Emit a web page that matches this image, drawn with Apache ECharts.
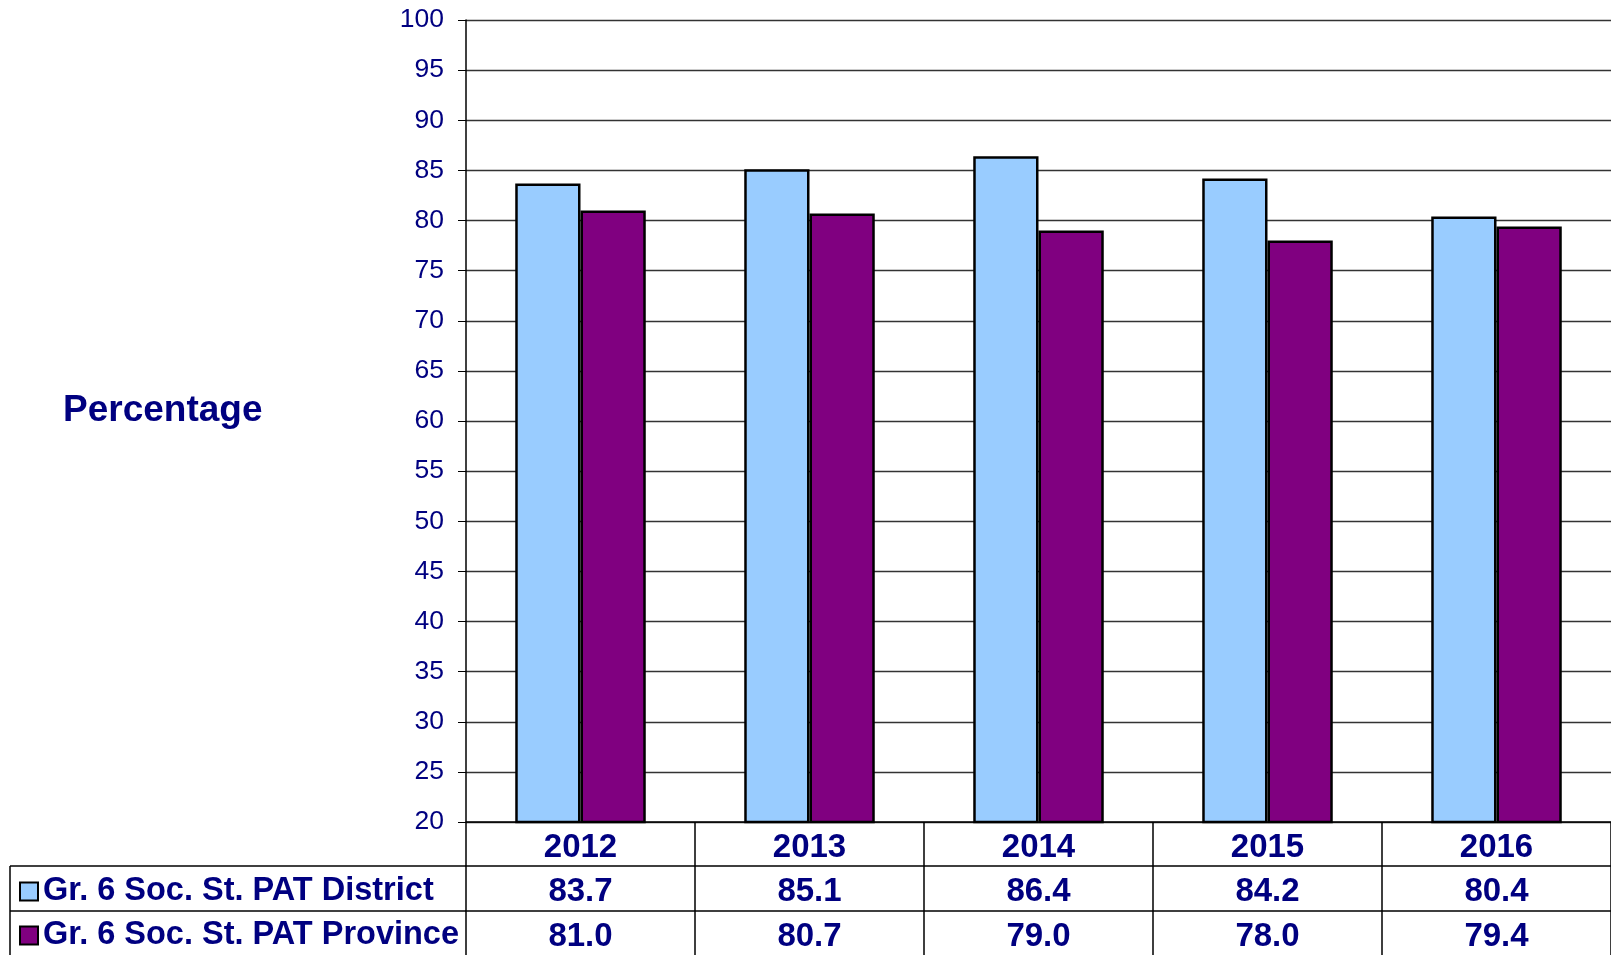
<!DOCTYPE html>
<html><head><meta charset="utf-8">
<script src="https://cdn.jsdelivr.net/npm/echarts@6/dist/echarts.min.js"></script>
<style>html,body{margin:0;padding:0;background:#fff}#c{width:1611px;height:955px}</style>
</head><body><div id="c"></div>
<script>
const years = ['2012','2013','2014','2015','2016'];
const districtName = 'Gr. 6 Soc. St. PAT District';
const provinceName = 'Gr. 6 Soc. St. PAT Province';
const district = [83.7, 85.1, 86.4, 84.2, 80.4];
const province = [81.0, 80.7, 79.0, 78.0, 79.4];
const yTicks = {min: 20, max: 100, interval: 5};

const NAVY = '#000080';
const FONT = 'Liberation Sans, Arial, sans-serif';
const chart = echarts.init(document.getElementById('c'), null, {renderer: 'canvas'});

const GRID_L = 466, GRID_T = 20, GRID_B = 133, ROW = 44;

function tableAxis(vals, offset) {
  return {
    type: 'category', data: vals.map(v => v.toFixed(1)), position: 'bottom', offset: offset,
    axisLine: {show: true, lineStyle: {color: '#000', width: 1.5}},
    axisTick: {show: false}, splitLine: {show: false},
    axisLabel: {margin: 25.5, verticalAlign: 'middle', color: NAVY, fontFamily: FONT, fontWeight: 'bold', fontSize: 33}
  };
}

function legendRow(name, top) {
  return {
    orient: 'vertical', left: 19, top: top, padding: 0, itemGap: 0,
    itemWidth: 18, itemHeight: 18, icon: 'rect',
    data: [name],
    textStyle: {color: NAVY, fontFamily: FONT, fontWeight: 'bold', fontSize: 32.5, lineHeight: ROW, padding: [0, 0, 0, 0]}
  };
}

chart.setOption({
  animation: false,
  backgroundColor: '#fff',
  grid: {left: GRID_L, right: 0, top: GRID_T, bottom: GRID_B},
  graphic: [
    {type: 'text', left: 63, top: 392, style: {text: 'Percentage', fill: NAVY, font: 'bold 37px ' + FONT}},
    {type: 'line', shape: {x1: 10, y1: 866, x2: GRID_L, y2: 866}, style: {stroke: '#000', lineWidth: 1.5}},
    {type: 'line', shape: {x1: 10, y1: 911, x2: GRID_L, y2: 911}, style: {stroke: '#000', lineWidth: 1.5}},
    {type: 'line', shape: {x1: 10, y1: 866, x2: 10, y2: 955}, style: {stroke: '#000', lineWidth: 1.5}}
  ],
  legend: [legendRow(districtName, 869.5), legendRow(provinceName, 913.5)],
  xAxis: [
    {
      type: 'category', data: years, position: 'bottom',
      axisLine: {show: true, lineStyle: {color: '#000', width: 1.5}},
      axisTick: {show: true, length: 140, lineStyle: {color: '#000', width: 1.5}},
      axisLabel: {margin: 25.5, verticalAlign: 'middle', color: NAVY, fontFamily: FONT, fontWeight: 'bold', fontSize: 33},
      splitLine: {show: false}
    },
    tableAxis(district, 44),
    tableAxis(province, 89)
  ],
  yAxis: {
    type: 'value', min: yTicks.min, max: yTicks.max, interval: yTicks.interval,
    axisLine: {show: true, lineStyle: {color: '#000', width: 1.5}},
    axisTick: {show: true, length: 8, lineStyle: {color: '#000'}},
    axisLabel: {margin: 22, color: NAVY, fontFamily: FONT, fontSize: 26.5},
    splitLine: {show: true, lineStyle: {color: '#333', width: 1.3}}
  },
  series: [
    {name: districtName, type: 'bar', data: district, barGap: '0%', barCategoryGap: '43%',
     itemStyle: {color: '#99CCFF', borderColor: '#000', borderWidth: 2.5}},
    {name: provinceName, type: 'bar', data: province, barGap: '0%', barCategoryGap: '43%',
     itemStyle: {color: '#800080', borderColor: '#000', borderWidth: 2.5}}
  ]
});
</script></body></html>
